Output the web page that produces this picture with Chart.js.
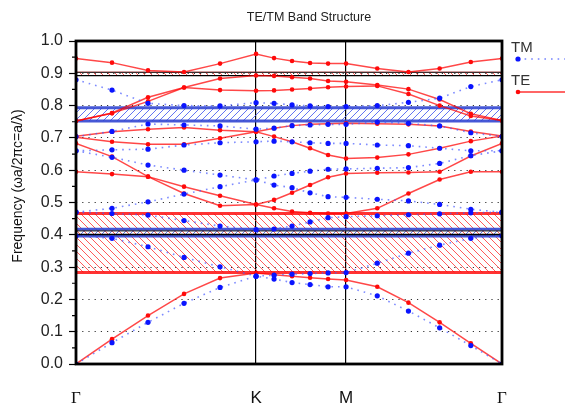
<!DOCTYPE html>
<html><head><meta charset="utf-8">
<script src="https://cdn.jsdelivr.net/npm/chart.js@4.4.0/dist/chart.umd.min.js"></script>
<style>html,body{margin:0;padding:0;background:#fff;}canvas{display:block;}</style>
</head><body>
<canvas id="c" width="565" height="409"></canvas>
<script>
// k-path positions (Γ-K-M-Γ, path length units)
const kPos = [0, 0.2, 0.4, 0.6, 0.8, 1.0, 1.1, 1.2, 1.3, 1.4, 1.5, 1.6732, 1.8464, 2.0196, 2.1928, 2.366];
const kTickPos = [0, 1, 1.5, 2.366];
const kTickLabels = ['Γ', 'K', 'M', 'Γ'];
const yTickValues = [0, 0.1, 0.2, 0.3, 0.4, 0.5, 0.6, 0.7, 0.8, 0.9, 1.0];

// TE bands (red)
const te1 = [0.000, 0.077, 0.150, 0.217, 0.266, 0.282, 0.276, 0.272, 0.267, 0.263, 0.260, 0.239, 0.190, 0.129, 0.064, 0.000];
const te2 = [0.595, 0.588, 0.580, 0.528, 0.490, 0.494, 0.482, 0.472, 0.468, 0.466, 0.466, 0.482, 0.528, 0.571, 0.595, 0.595];
const te3 = [0.683, 0.642, 0.580, 0.549, 0.521, 0.494, 0.508, 0.530, 0.554, 0.578, 0.590, 0.592, 0.593, 0.595, 0.644, 0.683];
const te4 = [0.702, 0.688, 0.680, 0.680, 0.699, 0.719, 0.704, 0.688, 0.668, 0.647, 0.636, 0.639, 0.649, 0.668, 0.690, 0.706];
const te5 = [0.705, 0.719, 0.727, 0.732, 0.724, 0.719, 0.730, 0.738, 0.742, 0.744, 0.745, 0.744, 0.742, 0.737, 0.720, 0.706];
const te6 = [0.752, 0.776, 0.813, 0.856, 0.848, 0.846, 0.847, 0.850, 0.853, 0.857, 0.859, 0.861, 0.836, 0.800, 0.768, 0.754];
const te7 = [0.752, 0.777, 0.826, 0.856, 0.884, 0.893, 0.892, 0.888, 0.884, 0.876, 0.874, 0.864, 0.851, 0.819, 0.775, 0.754];
const te8 = [0.946, 0.933, 0.909, 0.904, 0.930, 0.960, 0.947, 0.938, 0.932, 0.930, 0.930, 0.915, 0.904, 0.915, 0.935, 0.946];

// TM bands (blue)
const tm1 = [0.000, 0.066, 0.129, 0.188, 0.237, 0.272, 0.263, 0.252, 0.246, 0.239, 0.239, 0.211, 0.164, 0.112, 0.057, 0.000];
const tm2 = [0.397, 0.389, 0.363, 0.330, 0.301, 0.272, 0.275, 0.278, 0.280, 0.282, 0.283, 0.312, 0.343, 0.368, 0.389, 0.397];
const tm3 = [0.470, 0.466, 0.461, 0.444, 0.427, 0.416, 0.418, 0.427, 0.440, 0.453, 0.456, 0.459, 0.462, 0.465, 0.468, 0.470];
const tm4 = [0.470, 0.482, 0.502, 0.526, 0.549, 0.570, 0.554, 0.546, 0.530, 0.518, 0.516, 0.510, 0.505, 0.494, 0.479, 0.470];
const tm5 = [0.660, 0.640, 0.616, 0.600, 0.585, 0.570, 0.582, 0.590, 0.597, 0.603, 0.604, 0.606, 0.608, 0.621, 0.645, 0.660];
const tm6 = [0.660, 0.663, 0.665, 0.678, 0.685, 0.688, 0.690, 0.688, 0.685, 0.683, 0.683, 0.678, 0.676, 0.668, 0.660, 0.660];
const tm7 = [0.704, 0.720, 0.743, 0.740, 0.737, 0.727, 0.730, 0.738, 0.740, 0.742, 0.742, 0.749, 0.745, 0.737, 0.716, 0.704];
const tm8 = [0.880, 0.848, 0.807, 0.800, 0.799, 0.809, 0.807, 0.802, 0.799, 0.797, 0.797, 0.800, 0.810, 0.823, 0.859, 0.880];

// band gaps [bottom, top]
const teGaps = [[0.283, 0.466], [0.893, 0.903]];
const tmGaps = [[0.396, 0.417], [0.752, 0.793]];
const completeGaps = [[0.401, 0.412], [0.893, 0.903]];

const teBands = [te1, te2, te3, te4, te5, te6, te7, te8];
const tmBands = [tm1, tm2, tm3, tm4, tm5, tm6, tm7, tm8];

const toPts = b => kPos.map((x, i) => ({x: x, y: b[i]}));
const datasets = [];
tmBands.forEach((b, i) => datasets.push({
  label: i === 0 ? 'TM' : '', data: toPts(b),
  borderColor: 'rgba(70,90,255,0.7)', borderWidth: 1.6, borderDash: [1.6, 5],
  pointRadius: 2.6, pointBackgroundColor: '#0a14ff', pointBorderWidth: 0, tension: 0
}));
teBands.forEach((b, i) => datasets.push({
  label: i === 0 ? 'TE' : '', data: toPts(b),
  borderColor: 'rgba(255,0,0,0.72)', borderWidth: 1.5,
  pointRadius: 2.3, pointBackgroundColor: '#ff0a0a', pointBorderWidth: 0, tension: 0
}));

function hatch(ctx, area, yTop, yBot, dir, color, sp) {
  ctx.save();
  ctx.beginPath(); ctx.rect(area.left, yTop, area.right - area.left, yBot - yTop); ctx.clip();
  ctx.strokeStyle = color; ctx.lineWidth = 1;
  ctx.beginPath();
  if (dir < 0) { // "\" lines: x - y = c
    for (let c = Math.floor((area.left - yBot) / sp) * sp; c < area.right - yTop + sp; c += sp) {
      ctx.moveTo(c + yTop, yTop); ctx.lineTo(c + yBot, yBot);
    }
  } else { // "/" lines: x + y = c
    for (let c = Math.floor((area.left + yTop) / sp) * sp; c < area.right + yBot + sp; c += sp) {
      ctx.moveTo(c - yTop, yTop); ctx.lineTo(c - yBot, yBot);
    }
  }
  ctx.stroke(); ctx.restore();
}
function hline(ctx, area, y, color, w) {
  ctx.save(); ctx.strokeStyle = color; ctx.lineWidth = w;
  ctx.beginPath(); ctx.moveTo(area.left, y); ctx.lineTo(area.right, y); ctx.stroke(); ctx.restore();
}

const gapPlugin = {
  id: 'gaps',
  beforeDatasetsDraw(chart) {
    const {ctx, chartArea: a, scales: {y}} = chart;
    teGaps.forEach(g => {
      const yt = y.getPixelForValue(g[1]), yb = y.getPixelForValue(g[0]);
      hatch(ctx, a, yt, yb, -1, 'rgba(255,50,50,0.8)', 7);
    });
    tmGaps.forEach(g => {
      const yt = y.getPixelForValue(g[1]), yb = y.getPixelForValue(g[0]);
      hatch(ctx, a, yt, yb, 1, 'rgba(70,90,240,0.85)', 7);
    });
    teGaps.forEach((g, i) => {
      if (i === 0) {
        hline(ctx, a, y.getPixelForValue(g[1]), 'rgba(255,0,0,0.8)', 3);
        hline(ctx, a, y.getPixelForValue(g[0]), 'rgba(255,0,0,0.8)', 3);
      } else {
        hline(ctx, a, y.getPixelForValue(g[1]), 'rgba(255,80,80,0.7)', 1.5);
      }
    });
    tmGaps.forEach(g => {
      hline(ctx, a, y.getPixelForValue(g[1]), 'rgba(50,70,210,0.9)', 3);
      hline(ctx, a, y.getPixelForValue(g[0]), 'rgba(50,70,210,0.9)', 3);
    });
    completeGaps.forEach(g => {
      hline(ctx, a, y.getPixelForValue(g[1]), 'rgba(40,40,40,0.9)', 1.3);
      hline(ctx, a, y.getPixelForValue(g[0]), '#000', 1.3);
    });
  },
  afterDatasetsDraw(chart) {
    const {ctx, chartArea: a, scales: {y}} = chart;
    ctx.save();
    ctx.strokeStyle = '#000'; ctx.lineWidth = 2.8;
    ctx.strokeRect(a.left, a.top, a.right - a.left, a.bottom - a.top);
    // minor ticks
    ctx.lineWidth = 1.2;
    ctx.beginPath();
    for (let i = 0; i < yTickValues.length - 1; i++) {
      const py = y.getPixelForValue((yTickValues[i] + yTickValues[i + 1]) / 2);
      ctx.moveTo(a.left - 4, py); ctx.lineTo(a.left, py);
    }
    ctx.stroke();
    // title
    ctx.fillStyle = '#222';
    ctx.font = '12.5px "Liberation Sans", Arial, sans-serif';
    ctx.textAlign = 'center'; ctx.textBaseline = 'middle';
    ctx.fillText('TE/TM Band Structure', 309, 18);
    // y title
    ctx.save();
    ctx.translate(18, 186); ctx.rotate(-Math.PI / 2);
    ctx.font = '14px "Liberation Sans", Arial, sans-serif';
    ctx.fillStyle = '#111';
    ctx.fillText('Frequency (ωa/2πc=a/λ)', 0, 0);
    ctx.restore();
    // legend
    ctx.textAlign = 'left'; ctx.textBaseline = 'alphabetic';
    ctx.font = '15px "Liberation Sans", Arial, sans-serif';
    ctx.fillStyle = '#333';
    ctx.fillText('TM', 511, 52);
    ctx.fillText('TE', 511, 85);
    ctx.strokeStyle = 'rgba(70,90,255,0.75)'; ctx.lineWidth = 1.6; ctx.setLineDash([1.6, 5]);
    ctx.beginPath(); ctx.moveTo(518, 59); ctx.lineTo(565, 59); ctx.stroke();
    ctx.setLineDash([]);
    ctx.fillStyle = '#0a14ff'; ctx.beginPath(); ctx.arc(518, 59, 2.6, 0, Math.PI * 2); ctx.fill();
    ctx.strokeStyle = 'rgba(255,0,0,0.8)'; ctx.lineWidth = 1.5;
    ctx.beginPath(); ctx.moveTo(518, 92); ctx.lineTo(565, 92); ctx.stroke();
    ctx.fillStyle = '#ff0a0a'; ctx.beginPath(); ctx.arc(518, 92, 2.3, 0, Math.PI * 2); ctx.fill();
    ctx.restore();
  }
};

new Chart(document.getElementById('c'), {
  type: 'line',
  data: {datasets: datasets},
  options: {
    responsive: false, animation: false, devicePixelRatio: 1,
    layout: {padding: {top: 41, right: 63, left: 0, bottom: 0}},
    plugins: {legend: {display: false}, title: {display: false}, tooltip: {enabled: false}},
    scales: {
      x: {
        type: 'linear', min: 0, max: kTickPos[kTickPos.length - 1],
        afterBuildTicks: s => { s.ticks = kTickPos.map(v => ({value: v})); },
        afterFit: s => { s.height = 45; },
        ticks: {
          autoSkip: false, maxRotation: 0, padding: 24, color: '#111',
          callback: (v, i) => kTickLabels[i],
          font: ctx => ({family: (kTickLabels[ctx.index] === 'Γ') ? '"Liberation Serif", serif' : '"Liberation Sans", Arial, sans-serif', size: 17})
        },
        grid: {color: ctx => (kTickLabels[ctx.index] === 'Γ') ? 'rgba(0,0,0,0)' : '#000', lineWidth: 1.2, drawTicks: false},
        border: {display: false}
      },
      y: {
        min: 0, max: 1,
        afterBuildTicks: s => { s.ticks = yTickValues.map(v => ({value: v})); },
        afterFit: s => { s.width = 76; },
        ticks: {padding: 6, color: '#222', font: {family: '"Liberation Sans", Arial, sans-serif', size: 16},
          callback: v => v.toFixed(1)},
        grid: {color: ctx => (ctx.tick && ctx.tick.value > 0.001 && ctx.tick.value < 0.999) ? '#333' : 'rgba(0,0,0,0)',
          lineWidth: 1, tickLength: 7, tickColor: '#000', tickWidth: 1.2},
        border: {display: false, dash: [1.2, 5]}
      }
    }
  },
  plugins: [gapPlugin]
});
</script>
</body></html>
